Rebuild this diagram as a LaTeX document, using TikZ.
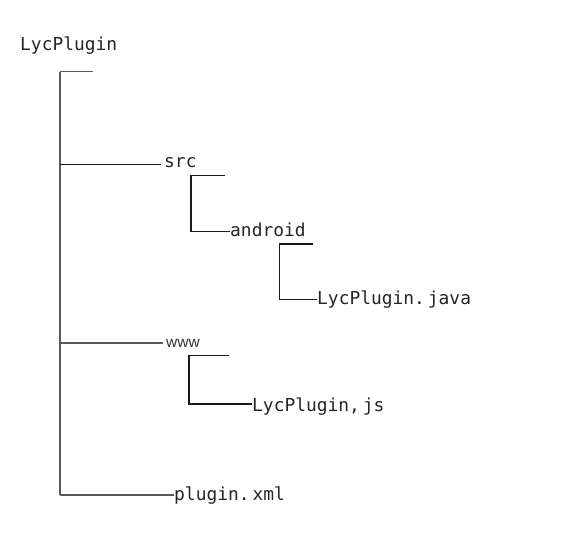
\documentclass[tikz,border=0pt]{standalone}
\usepackage{fontspec}
\newfontfamily\treefont{DejaVu Sans Mono}
\newfontfamily\wwwfont{Liberation Sans}
\begin{document}
\begin{tikzpicture}[x=1pt,y=-1pt,
  lbl/.style={inner sep=0pt,anchor=base west,font=\treefont\fontsize{17.9}{20}\selectfont,text=black!85},
  trunk/.style={draw=black!65,line width=1.1pt},
  branch/.style={draw=black!90,line width=1.1pt}]
\useasboundingbox (0,0) rectangle (587,540);
\fill[white] (0,0) rectangle (587,540);
% text nodes
\node[lbl] (root) at (20,51) {LycPlugin};
\node[lbl] (src) at (164,168) {src};
\node[lbl] (android) at (230,237) {android};
\node[lbl] (java) at (317,305) {LycPlugin.\,java};
\node[lbl,font=\wwwfont\fontsize{15.5}{17}\selectfont,text=black!80] (www) at (166,347.5) {www};
\node[lbl] (js) at (252,411) {LycPlugin,\,js};
\node[lbl] (xml) at (174,500) {plugin.\,xml};
% junction coordinates
\coordinate (t0) at (60,71.7);
\coordinate (t0e) at (93,71.7);
\coordinate (tsrc) at (60,164.7);
\coordinate (twww) at (60,343);
\coordinate (txml) at (60,495);
\coordinate (s0) at (191,175.5);
\coordinate (s0e) at (225,175.5);
\coordinate (s1) at (191,231.5);
\coordinate (a0) at (279.3,244);
\coordinate (a0e) at (312.7,244);
\coordinate (a1) at (279.3,299.7);
\coordinate (w0) at (189,355.7);
\coordinate (w0e) at (229,355.7);
\coordinate (w1) at (189,404);
% trunk
\draw[trunk] (t0) -- (txml);
\draw[trunk] (t0) -- (t0e);
\draw[branch] (tsrc) -- ([xshift=-3pt]tsrc -| src.west);
\draw[trunk] (twww) -- ([xshift=-3pt]twww -| www.west);
\draw[trunk] (txml) -- (txml -| xml.west);
% src subtree
\draw[branch] (s0e) -- (s0) -- (s1) -- (s1 -| android.west);
% android subtree
\draw[branch] (a0e) -- (a0) -- (a1) -- (a1 -| java.west);
% www subtree
\draw[branch] (w0e) -- (w0) -- (w1) -- (w1 -| js.west);
\end{tikzpicture}
\end{document}
